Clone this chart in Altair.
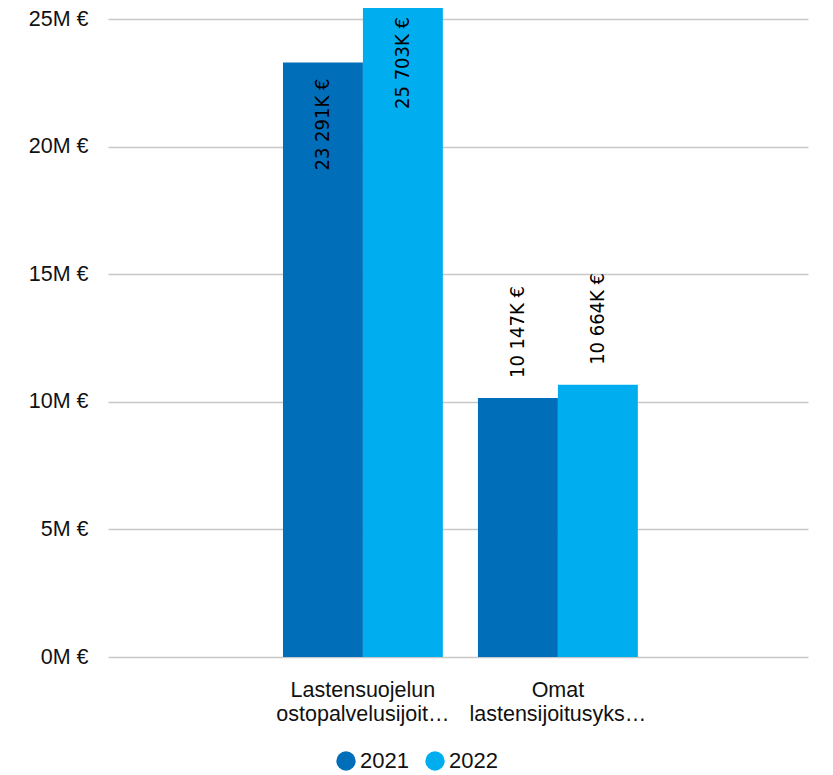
import altair as alt
import pandas as pd

categories = ["Lastensuojelun ostopalvelusijoit…", "Omat lastensijoitusyks…"]
years = ["2021", "2022"]
values_2021 = [23291000, 10147000]
values_2022 = [25703000, 10664000]
label_pos = ["inside", "outside"]  # label placement per category
y_ticks = [0, 5000000, 10000000, 15000000, 20000000, 25000000]
colors = ["#006EB8", "#00AEEF"]

rows = []
for i, c in enumerate(categories):
    rows.append({"category": c, "year": "2021", "value": values_2021[i], "pos": label_pos[i]})
    rows.append({"category": c, "year": "2022", "value": values_2022[i], "pos": label_pos[i]})
df = pd.DataFrame(rows)

base = alt.Chart(df).encode(
    x=alt.X("category:N", sort=categories, title=None,
            scale=alt.Scale(paddingInner=0.18, paddingOuter=0.885, align=0.507),
            axis=alt.Axis(labelExpr="split(datum.label, ' ')", labelAngle=0,
                          labelFont="Liberation Sans", labelFontSize=21.5,
                          labelColor="#111111", labelPadding=22, ticks=False,
                          domain=False, labelLineHeight=24, labelLimit=300)),
    xOffset=alt.XOffset("year:N", sort=years, scale=alt.Scale(paddingInner=0, paddingOuter=0)),
    y=alt.Y("value:Q", title=None,
            scale=alt.Scale(domain=[0, 25000000], nice=False),
            axis=alt.Axis(values=y_ticks, labelExpr="format(datum.value/1000000, 'd') + 'M €'",
                          labelFont="Liberation Sans", labelFontSize=21.5, labelColor="#111111",
                          labelPadding=20, ticks=False, domain=False,
                          gridColor="#C8C8C8", gridWidth=1.5)),
)

bars = base.mark_bar(clip=False).encode(
    color=alt.Color("year:N", sort=years, scale=alt.Scale(domain=years, range=colors),
                    legend=alt.Legend(title=None, orient="none", legendX=227, legendY=731,
                                      direction="horizontal",
                                      symbolType="circle", symbolSize=375,
                                      labelFont="Liberation Sans", labelFontSize=22,
                                      labelColor="#111111", columnPadding=15,
                                      symbolStrokeWidth=0, labelOffset=3))
)

label_calc = "replace(format(datum.value/1000, ',.0f'), ',', ' ') + 'K €'"

inside = base.transform_filter(alt.datum.pos == "inside").transform_calculate(
    lbl=label_calc
).mark_text(angle=270, align="right", baseline="middle", dx=-16,
            font="DejaVu Sans Condensed", fontSize=20, color="#000000").encode(text="lbl:N")

outside = base.transform_filter(alt.datum.pos == "outside").transform_calculate(
    lbl=label_calc
).mark_text(angle=270, align="left", baseline="middle", dx=20,
            font="DejaVu Sans Condensed", fontSize=20, color="#000000").encode(text="lbl:N")

chart = alt.layer(bars, inside, outside).properties(
    width=700, height=638,
    autosize=alt.AutoSizeParams(type="none"),
    padding={"left": 100, "top": 11, "right": 17, "bottom": 115},
).configure_view(stroke=None)

chart.save("out.html", embed_options={"renderer": "svg", "actions": False})
